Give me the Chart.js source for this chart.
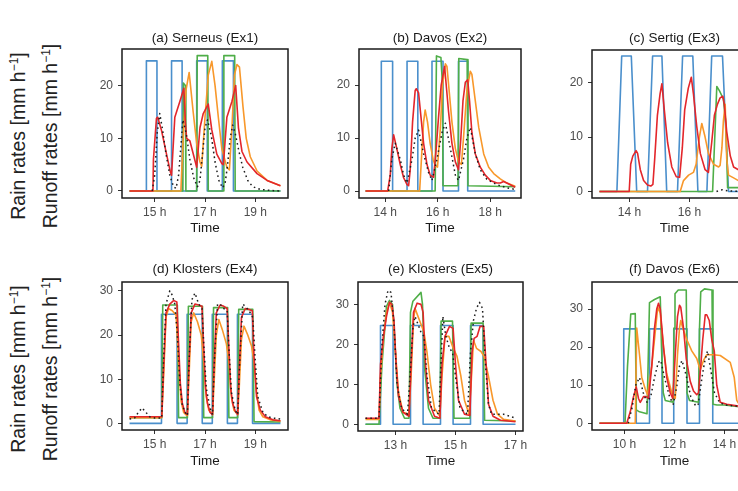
<!DOCTYPE html>
<html>
<head>
<meta charset="utf-8">
<title>Rain and runoff rates</title>
<script src="https://cdn.jsdelivr.net/npm/chart.js@4.4.1/dist/chart.umd.min.js"></script>
<style>
html,body{margin:0;padding:0;background:#fff;overflow:hidden;}
#wrap{position:relative;width:738px;height:491px;overflow:hidden;background:#fff;}
canvas{position:absolute;}
.ylab{position:absolute;white-space:nowrap;font-family:"Liberation Sans",Arial,sans-serif;font-size:19.5px;line-height:1;color:#222;transform:translate(-50%,-50%) rotate(-90deg);}
.ylab sup{font-size:12px;vertical-align:7px;line-height:0;}
</style>
</head>
<body>
<div id="wrap">
  <div class="ylab" style="left:19px;top:136px">Rain rates [mm h<sup>−1</sup>]</div>
  <div class="ylab" style="left:51px;top:136px">Runoff rates [mm h<sup>−1</sup>]</div>
  <div class="ylab" style="left:19px;top:369px">Rain rates [mm h<sup>−1</sup>]</div>
  <div class="ylab" style="left:51px;top:369px">Runoff rates [mm h<sup>−1</sup>]</div>
</div>
<script>
// ---------------- titles and ticks ----------------
const titles = ['(a) Serneus (Ex1)', '(b) Davos (Ex2)', '(c) Sertig (Ex3)', '(d) Klosters (Ex4)', '(e) Klosters (Ex5)', '(f) Davos (Ex6)'];
const a_xticks = [15, 17, 19];
const b_xticks = [14, 16, 18];
const c_xticks = [14, 16, 18];
const d_xticks = [15, 17, 19];
const e_xticks = [13, 15, 17];
const f_xticks = [10, 12, 14];
const yticks_row1 = [0, 10, 20];
const yticks_row2 = [0, 10, 20, 30];

// ---------------- (a) Serneus ----------------
const a_rain_t = [14.0, 14.67, 15.09, 15.67, 16.09, 16.67, 17.09, 17.69, 18.13, 20.0];
const a_rain   = [0, 24.7, 0, 24.7, 0, 24.7, 0, 24.7, 0, 0];
const a_obs_t = [14.9, 15.0, 15.1, 15.2, 15.3, 15.45, 15.6, 15.75, 15.85, 15.95, 16.05, 16.12, 16.25, 16.4, 16.55, 16.7, 16.8, 16.9, 17.0, 17.1, 17.25, 17.4, 17.55, 17.7, 17.8, 17.9, 18.0, 18.1, 18.2, 18.35, 18.5, 18.7, 18.9, 19.2, 19.6, 20.0];
const a_obs   = [0, 3, 11, 14.7, 12, 7, 3, 0.8, 0.5, 3, 9, 13.5, 11, 6, 2.5, 0.8, 2, 7, 12, 13.5, 10.5, 5.5, 2, 0.6, 1.5, 5, 10, 12.5, 11, 7.5, 4.5, 2, 0.8, 0.3, 0.1, 0];
const a_red_t = [14.0, 14.93, 14.95, 15.07, 15.12, 15.27, 15.47, 15.63, 15.67, 15.8, 16.0, 16.16, 16.22, 16.27, 16.4, 16.67, 16.8, 16.93, 17.13, 17.27, 17.47, 17.67, 17.73, 17.87, 18.07, 18.22, 18.33, 18.47, 18.67, 19.07, 19.47, 20.0];
const a_red   = [0, 0, 6, 13.8, 14, 11.5, 7, 3.5, 3, 14, 17, 19.5, 13, 10, 9.5, 4.5, 12, 14.7, 16.5, 11.6, 7, 5.2, 5, 14, 17, 20, 12, 7.5, 5.5, 3.3, 2, 1.0];
const a_orange_t = [14.0, 16.04, 16.13, 16.24, 16.37, 16.53, 16.67, 16.8, 16.87, 17.0, 17.13, 17.27, 17.4, 17.53, 17.67, 17.87, 17.97, 18.07, 18.17, 18.27, 18.37, 18.51, 18.64, 18.8, 19.07, 19.47, 20.0];
const a_orange   = [0, 0, 10, 19, 22.5, 15, 9, 5.5, 4.7, 14, 22, 24.6, 20, 14, 8, 4.5, 4, 12, 22, 24, 23.5, 16, 10, 6.5, 3.8, 2, 1.0];
const a_green_t = [14.0, 16.12, 16.14, 16.22, 16.24, 16.67, 16.69, 17.11, 17.13, 17.73, 17.75, 18.18, 18.2, 20.0];
const a_green   = [0, 0, 20.5, 20, 0, 0, 25.7, 25.7, 0, 0, 25.7, 25.7, 0, 0];

// ---------------- (b) Davos ----------------
const b_rain_t = [13.25, 13.85, 14.28, 14.83, 15.24, 15.78, 16.2, 16.79, 17.14, 18.95];
const b_rain   = [0, 24.5, 0, 24.5, 0, 24.5, 0, 24.5, 0, 0];
const b_obs_t = [14.13, 14.25, 14.38, 14.57, 14.7, 14.83, 15.02, 15.14, 15.27, 15.46, 15.65, 15.78, 15.97, 16.16, 16.29, 16.48, 16.67, 16.79, 16.98, 17.11, 17.24, 17.43, 17.62, 17.87, 18.25, 18.63, 18.95];
const b_obs   = [0, 6, 9, 6, 3, 1.5, 6, 10, 11.5, 7, 3.5, 2, 6, 11, 12.8, 8, 3, 2, 6, 10, 12, 7, 4, 2.2, 1.2, 0.6, 0.3];
const b_red_t = [13.25, 14.09, 14.19, 14.25, 14.32, 14.44, 14.57, 14.7, 14.83, 14.89, 14.95, 15.04, 15.14, 15.18, 15.27, 15.36, 15.46, 15.59, 15.71, 15.84, 15.94, 16.03, 16.13, 16.26, 16.41, 16.54, 16.67, 16.79, 16.88, 16.96, 17.05, 17.14, 17.21, 17.3, 17.43, 17.62, 17.81, 18.0, 18.25, 18.38, 18.51, 18.63, 18.95];
const b_red   = [0, 0, 3, 8, 10.6, 8, 5, 2.5, 1.2, 1, 4, 13, 19, 19.3, 18.5, 14, 9, 5, 3, 2.6, 8, 14, 20, 23.5, 15, 9, 5.5, 4, 10, 17, 20.5, 21, 17, 11, 7, 4.5, 3, 2, 1.5, 1.5, 1.8, 1.5, 0.7];
const b_orange_t = [13.25, 15.31, 15.4, 15.46, 15.52, 15.61, 15.71, 15.82, 15.9, 15.99, 16.1, 16.18, 16.29, 16.35, 16.45, 16.54, 16.67, 16.79, 16.9, 16.98, 17.11, 17.24, 17.3, 17.43, 17.56, 17.75, 17.94, 18.13, 18.38, 18.63, 18.95];
const b_orange   = [0, 0, 8, 13, 15.3, 13, 9, 6, 4.8, 4.5, 12, 20, 24, 23.5, 18, 13, 8, 5.5, 5, 10, 19, 22.6, 22, 17, 12, 7, 4.5, 3.3, 2.3, 1.5, 0.9];
const b_green_t = [13.25, 15.9, 15.95, 16.12, 16.18, 16.2, 16.77, 16.8, 17.12, 17.15, 18.95];
const b_green   = [0, 0, 25.5, 25.2, 20, 1.0, 1.0, 25.0, 24.8, 1.0, 0.8];

// ---------------- (c) Sertig ----------------
const c_rain_t = [13.0, 13.58, 13.74, 14.06, 14.24, 14.6, 14.77, 15.08, 15.24, 15.6, 15.77, 16.11, 16.28, 16.58, 16.74, 17.1, 17.3, 18.0];
const c_rain   = [0, 0, 24.9, 24.9, 0, 0, 24.9, 24.9, 0, 0, 24.9, 24.9, 0, 0, 24.9, 24.9, 0, 0];
const c_obs_t = [16.9, 17.0, 17.1, 17.2, 17.3, 17.5, 17.7, 18.0];
const c_obs   = [0, 0.2, 0.3, 0.2, 0.1, 0.05, 0, 0];
const c_red_t = [13.0, 13.99, 14.04, 14.11, 14.22, 14.27, 14.36, 14.47, 14.6, 14.71, 14.78, 14.84, 14.93, 15.02, 15.08, 15.16, 15.27, 15.41, 15.56, 15.67, 15.76, 15.84, 15.96, 16.06, 16.13, 16.24, 16.36, 16.52, 16.63, 16.74, 16.83, 16.93, 17.02, 17.11, 17.16, 17.24, 17.36, 17.47, 17.63, 17.8, 18.0];
const c_red   = [0, 0, 5, 6.5, 7.5, 7, 4, 2, 1.2, 1.0, 1.3, 6, 14, 18, 19.8, 15, 9, 4.5, 2.7, 2.6, 8, 15, 19, 21, 18, 12, 7, 4, 3.5, 9, 14, 16, 17.2, 17.5, 16, 11, 6.5, 4.5, 4, 3, 2];
const c_orange_t = [13.0, 15.69, 15.8, 15.97, 16.13, 16.22, 16.33, 16.41, 16.52, 16.63, 16.8, 16.97, 17.02, 17.08, 17.13, 17.19, 17.24, 17.3, 17.47, 17.63, 17.8, 18.0];
const c_orange   = [0, 0, 2, 3, 3.5, 5, 10, 12.5, 10, 7, 5, 4.5, 4.8, 8, 13, 16, 6, 3, 2.5, 2, 1.6, 1.2];
const c_green_t = [13.0, 16.77, 16.91, 17.0, 17.13, 17.22, 17.27, 18.0];
const c_green   = [0, 0, 19.3, 18.5, 17, 12, 0.7, 0.7];

// ---------------- (d) Klosters ----------------
const d_rain_t = [14.0, 15.27, 15.89, 16.29, 16.89, 17.29, 17.89, 18.29, 18.89, 20.0];
const d_rain   = [0, 24.7, 0, 24.7, 0, 24.7, 0, 24.7, 0, 0];
const d_obs_t = [14.0, 14.2, 14.35, 14.5, 14.65, 14.8, 15.0, 15.28, 15.35, 15.45, 15.6, 15.7, 15.8, 15.9, 16.0, 16.1, 16.25, 16.3, 16.38, 16.48, 16.6, 16.75, 16.88, 16.95, 17.05, 17.2, 17.3, 17.38, 17.5, 17.6, 17.75, 17.88, 17.95, 18.05, 18.2, 18.3, 18.38, 18.5, 18.6, 18.75, 18.9, 19.0, 19.1, 19.3, 19.5, 19.7, 20.0];
const d_obs   = [1, 1.2, 2.5, 3.5, 2.5, 1.5, 1.2, 1.2, 14, 27, 30, 29, 27, 20, 9, 4, 2, 1.8, 16, 28, 29.5, 27, 26, 18, 8, 3.5, 2, 15, 27, 27, 26, 25.5, 17, 7, 3, 2, 14, 27, 26.5, 25.5, 24, 14, 6, 2.5, 1.5, 1.2, 1];
const d_red_t = [14.0, 15.28, 15.35, 15.45, 15.6, 15.75, 15.88, 15.95, 16.02, 16.1, 16.2, 16.3, 16.35, 16.45, 16.6, 16.75, 16.88, 16.95, 17.02, 17.1, 17.2, 17.3, 17.35, 17.45, 17.6, 17.75, 17.88, 17.95, 18.02, 18.1, 18.2, 18.3, 18.35, 18.45, 18.6, 18.75, 18.88, 18.95, 19.05, 19.2, 19.4, 19.7, 20.0];
const d_red   = [1.5, 1.5, 12, 25, 27, 27.8, 27.5, 18, 9, 4.5, 2.5, 2, 12, 25, 27, 26.8, 26.5, 17, 8, 4.5, 2.5, 2, 12, 25, 26.8, 26.5, 26, 17, 8, 4.5, 2.8, 2, 11, 24, 26, 25.8, 25.5, 15, 6, 3, 1.5, 0.8, 0.6];
const d_orange_t = [14.0, 15.28, 15.35, 15.45, 15.55, 15.7, 15.85, 15.95, 16.05, 16.15, 16.25, 16.3, 16.36, 16.45, 16.55, 16.7, 16.85, 16.95, 17.05, 17.15, 17.3, 17.36, 17.45, 17.55, 17.7, 17.85, 17.95, 18.05, 18.15, 18.3, 18.36, 18.45, 18.55, 18.7, 18.85, 18.95, 19.05, 19.15, 19.3, 19.6, 20.0];
const d_orange   = [1.3, 1.3, 10, 24, 26, 25.5, 24.5, 14, 5, 2.5, 1.9, 1.8, 10, 23, 25, 23, 20, 14, 6, 3, 2, 9, 20, 23.5, 21, 18, 14, 6, 3, 2, 8, 19, 22, 20, 17.5, 14, 7, 3, 1.5, 0.8, 0.5];
const d_green_t = [14.0, 15.28, 15.32, 15.9, 15.95, 16.3, 16.34, 16.9, 16.95, 17.3, 17.34, 17.9, 17.95, 18.3, 18.34, 18.9, 18.95, 20.0];
const d_green   = [1.3, 1.3, 26.8, 26.8, 1.3, 1.3, 26.5, 26.5, 1.3, 1.3, 26.2, 26.2, 1.3, 1.3, 25.8, 25.8, 0.4, 0.3];

// ---------------- (e) Klosters ----------------
const e_rain_t = [12.0, 12.5, 12.92, 13.5, 13.92, 14.5, 14.92, 15.5, 15.92, 17.0];
const e_rain   = [0, 24.7, 0, 24.7, 0, 24.7, 0, 24.7, 0, 0];
const e_obs_t = [12.0, 12.45, 12.55, 12.65, 12.75, 12.85, 12.95, 13.05, 13.2, 13.4, 13.5, 13.58, 13.65, 13.75, 13.85, 13.95, 14.05, 14.2, 14.45, 14.52, 14.58, 14.68, 14.8, 14.9, 15.0, 15.15, 15.4, 15.5, 15.6, 15.7, 15.8, 15.9, 16.0, 16.1, 16.2, 16.4, 16.6, 16.8, 17.0];
const e_obs   = [1.5, 1.5, 20, 30, 33.5, 33, 25, 10, 4, 2.5, 14, 24, 27, 25, 23, 22, 12, 4, 2.5, 16, 27, 22, 19, 18, 12, 4, 2.5, 18, 26, 29, 30.5, 29, 15, 5, 2.5, 2.5, 2.5, 2, 1.5];
const e_red_t = [12.0, 12.45, 12.5, 12.6, 12.7, 12.8, 12.88, 12.95, 13.02, 13.1, 13.25, 13.45, 13.52, 13.6, 13.72, 13.85, 13.92, 14.0, 14.1, 14.3, 14.48, 14.55, 14.65, 14.8, 14.92, 15.0, 15.1, 15.3, 15.48, 15.55, 15.62, 15.72, 15.82, 15.94, 16.02, 16.1, 16.25, 16.5, 17.0];
const e_red   = [1.5, 1.5, 15, 22, 27, 30.5, 30, 26, 15, 7, 3, 2, 15, 28, 30.3, 30, 28, 15, 6, 2, 1.5, 15, 22, 24.5, 24, 15, 6, 2.5, 2.2, 18, 21.5, 22, 24.5, 24.5, 15, 5, 2, 1, 0.6];
const e_orange_t = [12.0, 12.45, 12.5, 12.6, 12.7, 12.8, 12.9, 13.0, 13.1, 13.25, 13.45, 13.52, 13.6, 13.65, 13.75, 13.85, 13.95, 14.05, 14.17, 14.3, 14.48, 14.55, 14.65, 14.78, 14.9, 15.05, 15.18, 15.3, 15.45, 15.52, 15.6, 15.7, 15.85, 15.95, 16.1, 16.25, 16.4, 16.6, 17.0];
const e_orange   = [1.2, 1.2, 12, 22, 28, 30.5, 28, 18, 8, 3, 2.5, 12, 26, 29, 27, 25, 23, 18, 10, 4, 2, 12, 22, 22, 19.5, 17, 12, 6, 2.5, 10, 21, 19, 18.2, 17, 12, 6, 2.5, 1.2, 0.8];
const e_green_t = [12.0, 12.45, 12.55, 12.7, 12.8, 12.9, 12.97, 13.05, 13.15, 13.3, 13.45, 13.5, 13.58, 13.85, 13.9, 13.97, 14.1, 14.25, 14.48, 14.52, 14.9, 14.95, 15.48, 15.52, 15.92, 15.97, 17.0];
const e_green   = [0, 0, 15, 29.5, 31, 30, 22, 10, 4, 1.5, 1.5, 28, 30.8, 33, 30, 14, 4, 1.5, 1.5, 25.8, 25.8, 1.5, 1.5, 25.3, 25.3, 1.0, 0.8];

// ---------------- (f) Davos ----------------
const f_rain_t = [9.0, 9.97, 10.47, 11.0, 11.5, 11.97, 12.5, 13.0, 13.53, 15.0];
const f_rain   = [0, 24.8, 0, 24.8, 0, 24.8, 0, 24.8, 0, 0];
const f_obs_t = [10.15, 10.3, 10.45, 10.6, 10.75, 10.9, 11.05, 11.2, 11.35, 11.45, 11.6, 11.8, 11.95, 12.1, 12.2, 12.3, 12.45, 12.65, 12.85, 12.95, 13.1, 13.2, 13.32, 13.45, 13.6, 13.8, 14.0, 14.5, 15.0];
const f_obs   = [0, 4, 10, 12, 8, 5.5, 7, 12, 16, 16.5, 12, 7, 5, 10, 15, 16.5, 13, 7, 4.5, 5, 12, 16, 19, 14, 8, 5.5, 4.8, 4.5, 4.2];
const f_red_t = [9.0, 10.09, 10.23, 10.36, 10.47, 10.56, 10.63, 10.76, 10.87, 10.96, 11.09, 11.2, 11.29, 11.36, 11.43, 11.56, 11.69, 11.83, 11.93, 12.03, 12.12, 12.2, 12.25, 12.36, 12.47, 12.63, 12.76, 12.89, 12.96, 13.05, 13.13, 13.23, 13.29, 13.39, 13.49, 13.59, 13.69, 13.83, 14.09, 14.56, 15.0];
const f_red   = [0, 0, 3, 7, 9.5, 6.5, 5.5, 7, 7, 6.5, 15, 25, 30, 31.5, 30, 20, 12, 8, 6.5, 18, 28, 31, 30.5, 25, 17, 11, 8.5, 7.5, 8, 15, 22, 28.5, 28.5, 27, 22, 19, 10, 5.5, 5, 4.5, 4.2];
const f_orange_t = [9.0, 10.43, 10.49, 10.6, 10.69, 10.83, 10.92, 11.09, 11.23, 11.33, 11.43, 11.56, 11.69, 11.89, 12.03, 12.12, 12.2, 12.25, 12.33, 12.49, 12.69, 12.89, 13.03, 13.16, 13.29, 13.56, 13.83, 14.23, 14.39, 14.49, 14.63, 15.0];
const f_orange   = [0, 0, 25, 18, 12, 9, 7.5, 15, 24, 30.5, 29, 20, 13, 8, 6.5, 18, 25, 27, 25, 22, 19, 17, 14, 16.5, 18, 18, 17.8, 16, 12, 6, 4.5, 4.0];
const f_green_t = [9.0, 10.02, 10.12, 10.25, 10.43, 10.47, 10.6, 10.9, 10.96, 11.0, 11.2, 11.43, 11.48, 11.55, 11.63, 11.95, 11.98, 12.02, 12.15, 12.47, 12.5, 12.6, 12.96, 13.0, 13.05, 13.2, 13.5, 13.54, 13.7, 14.0, 14.5, 15.0];
const f_green   = [0, 0, 15, 28.7, 28.8, 3.5, 3, 2.5, 20, 31.7, 32.5, 33.2, 20, 8, 6, 5.5, 25, 34, 35, 35, 8, 6, 5.5, 25, 34.5, 35.3, 35, 5, 4.8, 4.8, 4.4, 4.0];

// ---------------- layout (positions only) ----------------
const LAYOUT = [
  {box: [122, 49, 288, 198], x: [13.7, 20.3],  y: [-1.33, 26.95], titleY: 38.3, timeY: 228.3},
  {box: [359, 49, 521, 198], x: [13.0, 19.17], y: [-1.32, 26.8],  titleY: 38.3, timeY: 228.3},
  {box: [592, 50, 757, 198], x: [12.75, 18.25], y: [-1.2, 26.0],  titleY: 38.3, timeY: 228.3},
  {box: [122, 282, 288, 430], x: [13.7, 20.3], y: [-1.5, 32.0],   titleY: 269,  timeY: 461.3},
  {box: [358, 282, 523, 431], x: [11.75, 17.25], y: [-1.7, 35.6], titleY: 269,  timeY: 461.3},
  {box: [592, 282, 757, 430], x: [8.7, 15.3],  y: [-1.77, 37.1],  titleY: 269,  timeY: 461.3}
];

const COL = {rain: '#4a8fcc', obs: '#1e1e1e', red: '#e3262b', orange: '#f8982b', green: '#4fae48'};
const FONT = '"Liberation Sans", Arial, sans-serif';

const boxPlugin = {
  id: 'panelBox',
  afterDraw(chart) {
    const {ctx, chartArea: a} = chart;
    ctx.save();
    ctx.strokeStyle = '#1a1a1a';
    ctx.lineWidth = 1.5;
    ctx.strokeRect(a.left, a.top, a.right - a.left, a.bottom - a.top);
    ctx.restore();
  }
};

function series(label, t, v, color, extra) {
  return Object.assign({
    label: label,
    data: t.map((x, i) => ({x: x, y: v[i]})),
    borderColor: color, backgroundColor: color,
    borderWidth: 1.6, pointRadius: 0, pointHoverRadius: 0,
    fill: false, tension: 0, xAxisID: 'x', yAxisID: 'y',
    borderJoinStyle: 'round'
  }, extra || {});
}

function buildPanel(idx, xTicks, yTicks, rain, obs, red, orange, green) {
  const L = LAYOUT[idx];
  const [bl, bt, br, bb] = L.box;
  const YW = 40, TH = 34, BH = 42, PR = 12;
  const cv = document.createElement('canvas');
  cv.width = YW + (br - bl) + PR;
  cv.height = TH + (bb - bt) + BH;
  cv.style.left = (bl - YW) + 'px';
  cv.style.top = (bt - TH) + 'px';
  document.getElementById('wrap').appendChild(cv);
  const tsz = 13.5, lh = tsz * 1.2;
  const padTop = L.titleY - (bt - TH) - lh / 2;
  const padBottom = (bb + BH) - lh / 2 - L.timeY;

  new Chart(cv, {
    type: 'line',
    data: {
      datasets: [
        series('Observed runoff', obs[0], obs[1], COL.obs, {borderDash: [1.6, 3.2], borderWidth: 1.5}),
        series('Model run 1', red[0], red[1], COL.red),
        series('Model run 2', orange[0], orange[1], COL.orange),
        series('Model run 3', green[0], green[1], COL.green),
        series('Rain', rain[0], rain[1], COL.rain, {stepped: rain[2] ? true : false})
      ]
    },
    options: {
      responsive: false, animation: false, devicePixelRatio: 1,
      layout: {padding: {left: 0, right: PR, top: 0, bottom: 0}},
      plugins: {legend: {display: false}, title: {display: false}, tooltip: {enabled: false}},
      scales: {
        x: {
          type: 'linear', position: 'bottom', min: L.x[0], max: L.x[1],
          afterBuildTicks: s => { s.ticks = xTicks.map(v => ({value: v})); },
          afterFit: s => { s.height = BH; },
          ticks: {callback: v => v + ' h', color: '#4d4d4d', font: {family: FONT, size: 12}, padding: 3.5, maxRotation: 0, autoSkip: false},
          grid: {display: true, drawOnChartArea: false, drawTicks: true, tickLength: 4, color: '#333', lineWidth: 1},
          border: {display: false},
          title: {display: true, text: 'Time', color: '#1a1a1a', font: {family: FONT, size: tsz, lineHeight: 1.2}, padding: {top: 0, bottom: padBottom}}
        },
        xTop: {
          type: 'linear', position: 'top', min: 0, max: 1,
          afterBuildTicks: s => { s.ticks = []; },
          afterFit: s => { s.height = TH; },
          ticks: {display: false},
          grid: {display: false},
          border: {display: false},
          title: {display: true, text: titles[idx], color: '#1a1a1a', font: {family: FONT, size: tsz, lineHeight: 1.2}, padding: {top: padTop, bottom: 0}}
        },
        y: {
          type: 'linear', position: 'left', min: L.y[0], max: L.y[1],
          afterBuildTicks: s => { s.ticks = yTicks.map(v => ({value: v})); },
          afterFit: s => { s.width = YW; },
          ticks: {callback: v => String(v), color: '#4d4d4d', font: {family: FONT, size: 12}, padding: 5},
          grid: {display: true, drawOnChartArea: false, drawTicks: true, tickLength: 4, color: '#333', lineWidth: 1},
          border: {display: false}
        }
      }
    },
    plugins: [boxPlugin]
  });
}

buildPanel(0, a_xticks, yticks_row1, [a_rain_t, a_rain, 1], [a_obs_t, a_obs], [a_red_t, a_red], [a_orange_t, a_orange], [a_green_t, a_green]);
buildPanel(1, b_xticks, yticks_row1, [b_rain_t, b_rain, 1], [b_obs_t, b_obs], [b_red_t, b_red], [b_orange_t, b_orange], [b_green_t, b_green]);
buildPanel(2, c_xticks, yticks_row1, [c_rain_t, c_rain, 0], [c_obs_t, c_obs], [c_red_t, c_red], [c_orange_t, c_orange], [c_green_t, c_green]);
buildPanel(3, d_xticks, yticks_row2, [d_rain_t, d_rain, 1], [d_obs_t, d_obs], [d_red_t, d_red], [d_orange_t, d_orange], [d_green_t, d_green]);
buildPanel(4, e_xticks, yticks_row2, [e_rain_t, e_rain, 1], [e_obs_t, e_obs], [e_red_t, e_red], [e_orange_t, e_orange], [e_green_t, e_green]);
buildPanel(5, f_xticks, yticks_row2, [f_rain_t, f_rain, 1], [f_obs_t, f_obs], [f_red_t, f_red], [f_orange_t, f_orange], [f_green_t, f_green]);
</script>
</body>
</html>
